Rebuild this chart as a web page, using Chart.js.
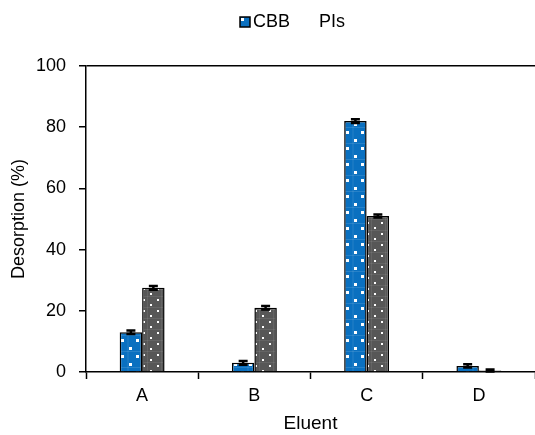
<!DOCTYPE html>
<html>
<head>
<meta charset="utf-8">
<script src="https://cdn.jsdelivr.net/npm/chart.js@4"></script>
<style>
  html, body { margin: 0; padding: 0; background: #fff; }
  #wrap { width: 535px; height: 435px; }
</style>
</head>
<body>
<div id="wrap"><canvas id="chart" width="535" height="435"></canvas></div>
<script>
// data
const eluents = ['A', 'B', 'C', 'D'];
const cbbValues = [13, 3, 82, 2];
const cbbErrors = [0.6, 0.6, 0.6, 0.5];
const pisValues = [27.5, 21, 51, 0.5];
const pisErrors = [0.6, 0.6, 0.5, 0.3];
const yTicks = [0, 20, 40, 60, 80, 100];

const FONT = 'Liberation Sans, Arial, sans-serif';
const BLUE = '#0a70c0';
const GREY = '#575757';

// fill patterns: blue with white squares, grey with small white dots
function makePattern(bg, line, dots, w, h, s) {
  const c = document.createElement('canvas');
  c.width = w; c.height = h;
  const g = c.getContext('2d');
  g.fillStyle = bg;
  g.fillRect(0, 0, w, h);
  g.fillStyle = line;
  g.fillRect(0, h - 1, w, 1);
  g.fillRect(w / 2, 0, 1, h);
  g.fillStyle = '#ffffff';
  dots.forEach(([x, y]) => g.fillRect(x, y, s, s));
  return g.createPattern(c, 'repeat');
}

const ctx = document.getElementById('chart').getContext('2d');
const bluePattern = makePattern(BLUE, 'rgba(255,255,255,0.12)', [[1, 3], [9, 11]], 15, 16, 3);
const greyPattern = makePattern(GREY, 'rgba(255,255,255,0.08)', [[3, 2], [10, 7]], 14, 11, 2);

// draws the small error bars with caps
const errorBars = {
  id: 'errorBars',
  afterDatasetsDraw(chart) {
    const y = chart.scales.y;
    const g = chart.ctx;
    const errs = [cbbErrors, pisErrors];
    g.save();
    g.strokeStyle = '#000';
    g.lineWidth = 2.5;
    chart.data.datasets.forEach((ds, di) => {
      chart.getDatasetMeta(di).data.forEach((bar, i) => {
        const v = ds.data[i];
        const e = errs[di][i];
        const top = y.getPixelForValue(v + e);
        const bot = y.getPixelForValue(Math.max(0, v - e));
        g.beginPath();
        g.moveTo(bar.x, top); g.lineTo(bar.x, bot);
        g.moveTo(bar.x - 4.5, top); g.lineTo(bar.x + 4.5, top);
        g.moveTo(bar.x - 4.5, bot); g.lineTo(bar.x + 4.5, bot);
        g.stroke();
      });
    });
    g.restore();
  }
};

// legend drawn by hand so the gaps match the reference
const topLegend = {
  id: 'topLegend',
  afterDraw(chart) {
    const g = chart.ctx;
    g.save();
    g.font = '18px ' + FONT;
    g.fillStyle = '#000';
    g.textBaseline = 'middle';
    // CBB marker
    g.fillStyle = BLUE;
    g.fillRect(240, 17, 10, 10);
    g.strokeStyle = '#000';
    g.lineWidth = 1.5;
    g.strokeRect(240, 17, 10, 10);
    g.fillStyle = '#fff';
    g.fillRect(241, 18, 3, 3);
    g.fillStyle = '#000';
    g.fillText('CBB', 253, 22);
    g.fillText('PIs', 319, 22);
    g.restore();
  }
};

new Chart(ctx, {
  type: 'bar',
  data: {
    labels: eluents,
    datasets: [
      {
        label: 'CBB',
        data: cbbValues,
        backgroundColor: bluePattern,
        borderColor: '#000',
        borderWidth: 1.5,
        barPercentage: 1,
        categoryPercentage: 0.4,
      },
      {
        label: 'PIs',
        data: pisValues,
        backgroundColor: greyPattern,
        borderColor: '#000',
        borderWidth: 1.5,
        barPercentage: 1,
        categoryPercentage: 0.4,
      },
    ],
  },
  options: {
    responsive: false,
    animation: false,
    layout: { padding: { top: 66, right: -3, left: 0, bottom: 0 } },
    plugins: {
      tooltip: { enabled: false },
      legend: { display: false },
    },
    scales: {
      x: {
        afterFit(axis) { axis.height = 63; },
        grid: {
          offset: true,
          drawOnChartArea: false,
          tickLength: 7,
          tickColor: '#000',
          tickWidth: 1.5,
        },
        border: { color: '#000', width: 1.5 },
        ticks: { color: '#000', font: { family: FONT, size: 18 }, padding: 6 },
        title: { display: true, text: 'Eluent', color: '#000', font: { family: FONT, size: 19 }, padding: { top: 0, bottom: 0 } },
      },
      y: {
        min: 0,
        max: 100,
        afterBuildTicks(axis) { axis.ticks = yTicks.map(v => ({ value: v })); },
        afterFit(axis) { axis.width = 86; },
        grid: {
          color: c => (c.tick && c.tick.value === 100 ? '#000' : 'rgba(0,0,0,0)'),
          lineWidth: 1.5,
          tickLength: 7,
          tickColor: '#000',
          tickWidth: 1.5,
        },
        border: { color: '#000', width: 1.5 },
        ticks: { color: '#000', font: { family: FONT, size: 18 }, padding: 13 },
        title: { display: true, text: 'Desorption (%)', color: '#000', font: { family: FONT, size: 18 }, padding: { top: 8, bottom: 4 } },
      },
    },
  },
  plugins: [errorBars, topLegend],
});
</script>
</body>
</html>
